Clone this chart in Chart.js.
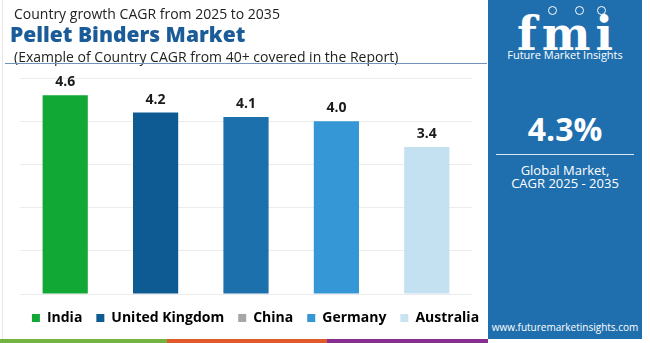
<!DOCTYPE html>
<html>
<head>
<meta charset="utf-8">
<script src="https://cdn.jsdelivr.net/npm/chart.js@4/dist/chart.umd.min.js"></script>
<style>
  html, body { margin: 0; padding: 0; background: #fff; }
  #wrap { position: relative; width: 650px; height: 343px; overflow: hidden; font-family: "Open Sans", sans-serif; }
  #wrap .t { position: absolute; white-space: nowrap; line-height: 1; }
  #chartBox { position: absolute; left: 0; top: 0; width: 511px; height: 339px; }
  #panel { position: absolute; left: 488px; top: 0; width: 154px; height: 339px; background: #1f6fae; color: #fff; }
  #panel .c { position: absolute; left: 0; width: 154px; text-align: center; white-space: nowrap; line-height: 1; }
  #panel .dot { position: absolute; top: 6px; width: 7px; height: 7px; border: 1.5px solid #fff; border-radius: 50%; }
</style>
</head>
<body>
<div id="wrap">
  <div id="chartBox"><canvas id="cagrChart"></canvas></div>

  <div style="position:absolute; left:2px; top:0; width:1px; height:339px; background:#e6e6e6;"></div>
  <div class="t" style="left:14px; top:7px; font-size:14px; color:#222;">Country growth CAGR from 2025 to 2035</div>
  <div class="t" style="left:10px; top:24px; font-size:21px; font-weight:800; color:#1b5c98;">Pellet Binders Market</div>
  <div class="t" style="left:14px; top:50px; font-size:14px; color:#222;">(Example of Country CAGR from 40+ covered in the Report)</div>
  <div style="position:absolute; left:5px; top:63px; width:482px; height:1px; background:#6f96ba;"></div>

  <div id="panel">
    <div class="dot" style="left:60px;"></div>
    <div class="dot" style="left:87px;"></div>
    <div class="dot" style="left:109px;"></div>
    <div class="c" style="top:11px; font-family:'DejaVu Serif', serif; font-weight:bold; font-size:46px; letter-spacing:5px; text-indent:5px;">fmi</div>
    <div class="c" style="top:49px; font-size:11px;">Future Market Insights</div>
    <div class="c" style="top:113px; font-size:32px; font-weight:bold;">4.3%</div>
    <div style="position:absolute; left:8px; top:154px; width:138px; height:1px; background:#dbe8f3;"></div>
    <div class="c" style="top:164px; font-size:13px;">Global Market,</div>
    <div class="c" style="top:177px; font-size:13px;">CAGR 2025 - 2035</div>
    <div class="c" style="top:322px; font-size:10px;">www.futuremarketinsights.com</div>
  </div>

  <div style="position:absolute; left:0; top:339px; width:167px; height:4px; background:#72b43f;"></div>
  <div style="position:absolute; left:167px; top:339px; width:160px; height:4px; background:#e05a29;"></div>
  <div style="position:absolute; left:327px; top:339px; width:161px; height:4px; background:#862f8e;"></div>
</div>

<script>
// Country CAGR 2025-2035 (%)
const countries = ['India', 'United Kingdom', 'China', 'Germany', 'Australia'];
const cagrValues = [4.6, 4.2, 4.1, 4.0, 3.4];
const barColors = ['#12a835', '#0e5a93', '#1c71ad', '#3597d5', '#c3e1f1'];
const legendColors = ['#12a835', '#0e5a93', '#a6a6a6', '#3597d5', '#c9e3f1'];

// draws the value above each bar
const valueLabels = {
  id: 'valueLabels',
  afterDatasetsDraw(chart) {
    const ctx = chart.ctx;
    const meta = chart.getDatasetMeta(0);
    ctx.save();
    ctx.font = 'bold 14px "Open Sans", sans-serif';
    ctx.fillStyle = '#1a1a1a';
    ctx.textAlign = 'center';
    ctx.textBaseline = 'middle';
    meta.data.forEach((bar, i) => {
      ctx.fillText(cagrValues[i].toFixed(1), bar.x, bar.y - 13);
    });
    ctx.restore();
  }
};

document.addEventListener('DOMContentLoaded', () => {
  const ctx = document.getElementById('cagrChart').getContext('2d');
  new Chart(ctx, {
    type: 'bar',
    data: {
      labels: countries,
      datasets: [{
        data: cagrValues,
        backgroundColor: barColors,
        barPercentage: 0.5,
        categoryPercentage: 1.0,
      }],
    },
    options: {
      responsive: true,
      maintainAspectRatio: false,
      animation: false,
      layout: { padding: { left: 0, right: 0, top: 78, bottom: 4 } },
      plugins: {
        tooltip: { enabled: false },
        legend: {
          position: 'bottom',
          labels: {
            boxWidth: 8,
            boxHeight: 8,
            padding: 14,
            color: '#111',
            font: { family: '"Open Sans", sans-serif', size: 14, weight: 'bold' },
            generateLabels: () => countries.map((name, i) => ({
              text: name,
              fillStyle: legendColors[i],
              strokeStyle: legendColors[i],
              lineWidth: 0,
              index: i,
            })),
          },
        },
      },
      scales: {
        x: {
          display: true,
          ticks: { display: false },
          grid: { display: false, drawTicks: false },
          border: { display: false },
          afterFit: (scale) => { scale.height = 3; },
        },
        y: {
          position: 'left',
          min: 0,
          max: 5,
          ticks: { display: false, stepSize: 1 },
          grid: { color: '#ececec', drawTicks: false },
          border: { display: false },
          afterFit: (scale) => { scale.width = 20; },
        },
        yRight: {
          position: 'right',
          min: 0,
          max: 5,
          ticks: { display: false },
          grid: { display: false, drawTicks: false },
          border: { display: false },
          afterFit: (scale) => { scale.width = 39; },
        },
      },
    },
    plugins: [valueLabels],
  });
});
</script>
</body>
</html>
